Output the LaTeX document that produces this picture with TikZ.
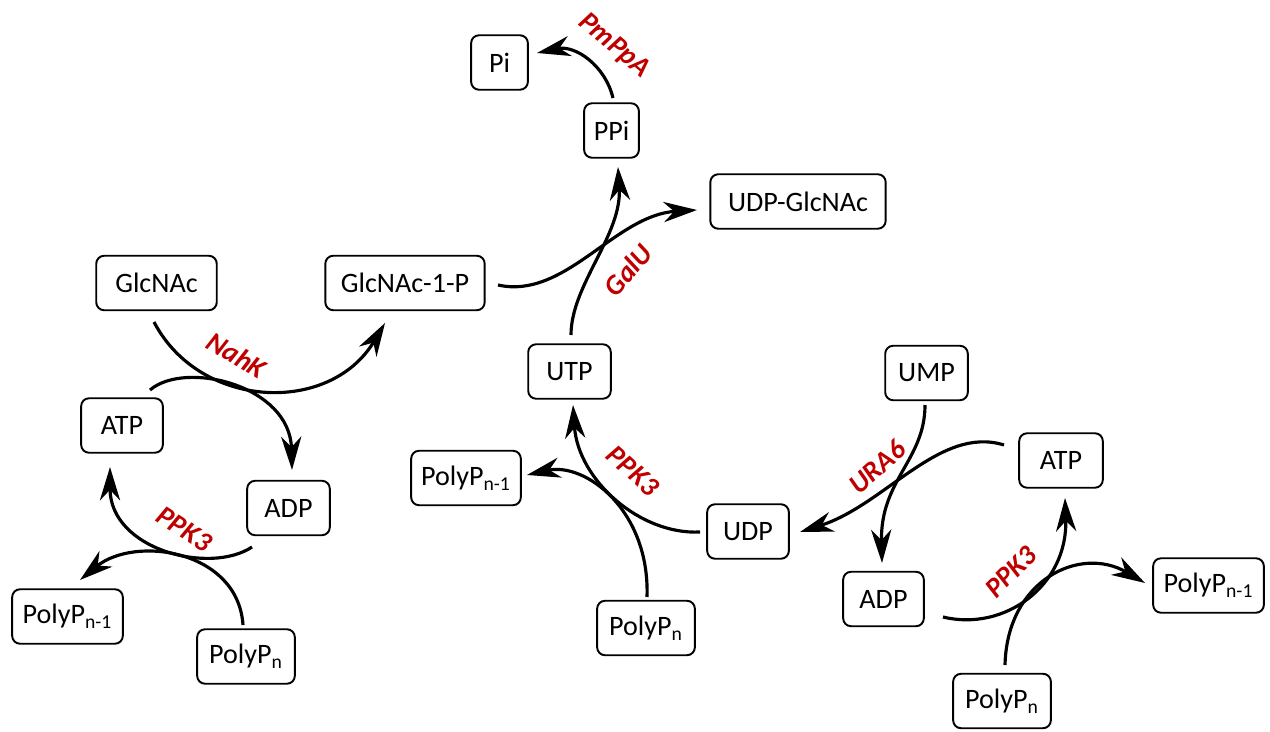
\documentclass[tikz,border=0pt]{standalone}
\usepackage{fontspec}
\setmainfont{Carlito}
\usetikzlibrary{calc,arrows.meta}
\definecolor{labred}{RGB}{192,0,0}
\begin{document}
\begin{tikzpicture}[x=0.02cm,y=-0.02cm,
  box/.style={draw,line width=1.1pt,rounded corners=4.5pt,minimum height=31pt,inner xsep=2pt,inner ysep=0pt,
    font=\fontsize{16}{19}\selectfont},
  arr/.style={line width=1.8pt,-{Stealth[length=19pt,width=11.5pt,inset=6pt]}},
  enz/.style={text=labred,font=\fontsize{16}{19}\selectfont\bfseries\itshape,inner sep=1pt}]
\useasboundingbox (0,0) rectangle (1270,732);
% nodes
\node[box,minimum width=68.6pt] (glcnac) at (156.5,283) {GlcNAc};
\node[box,minimum width=90.7pt] (glcnac1p) at (405,283) {GlcNAc-1-P};
\node[box,minimum width=46.5pt] (atpL) at (122,425.5) {ATP};
\node[box,minimum width=47pt] (adpL) at (288.5,508) {ADP};
\node[box,minimum width=63pt] (polyn1L) at (67.5,616.5) {PolyP\textsubscript{n-1}};
\node[box,minimum width=55.6pt] (polynL) at (246,656.5) {PolyP\textsubscript{n}};
\node[box,minimum width=32.3pt] (pi) at (499.5,62.5) {Pi};
\node[box,minimum width=31.2pt] (ppi) at (611.5,130.5) {PPi};
\node[box,minimum width=99.8pt] (udpglcnac) at (798,201.5) {UDP-GlcNAc};
\node[box,minimum width=47pt] (utp) at (569.5,371.5) {UTP};
\node[box,minimum width=62.4pt] (polyn1M) at (466,478) {PolyP\textsubscript{n-1}};
\node[box,minimum width=46.5pt] (udp) at (748,531.5) {UDP};
\node[box,minimum width=55.6pt] (polynM) at (646,628) {PolyP\textsubscript{n}};
\node[box,minimum width=47pt] (ump) at (926.5,373) {UMP};
\node[box,minimum width=47.6pt] (atpR) at (1061,460.5) {ATP};
\node[box,minimum width=45.9pt] (adpR) at (883.5,599) {ADP};
\node[box,minimum width=63pt] (polyn1R) at (1208.5,585.5) {PolyP\textsubscript{n-1}};
\node[box,minimum width=55.6pt] (polynR) at (1002,701) {PolyP\textsubscript{n}};
% connectors
\draw[arr] ($(glcnac)+(-2.5,39)$) .. controls (200,410) and (330,415) .. ($(glcnac1p)+(-20,40)$);
\draw[arr] ($(atpL)+(28,-35.5)$) .. controls (185,360) and (290,385) .. ($(adpL)+(3.5,-38)$);
\draw[arr] ($(adpL)+(-36.5,39)$) .. controls (210,575) and (110,550) .. ($(atpL)+(-12,41.5)$);
\draw[arr] ($(polynL)+(-3,-31.5)$) .. controls (238,550) and (135,535) .. ($(polyn1L)+(12.5,-36.5)$);
\draw[arr] ($(glcnac1p)+(93,2)$) .. controls (565,300) and (615,215) .. ($(udpglcnac)+(-101,8.5)$);
\draw[arr] ($(utp)+(1.5,-36.5)$) .. controls (571,285) and (622,235) .. ($(ppi)+(6.5,36.5)$);
\draw[arr] ($(ppi)+(1.5,-32.5)$) .. controls (605,65) and (575,45) .. ($(pi)+(37.5,-9.5)$);
\draw[arr] ($(udp)+(-48,0.5)$) .. controls (640,535) and (578,480) .. ($(utp)+(3.5,33.5)$);
\draw[arr] ($(polynM)+(1,-31)$) .. controls (650,510) and (585,462) .. ($(polyn1M)+(61,-3)$);
\draw[arr] ($(ump)+(-1.5,32)$) .. controls (925,460) and (880,480) .. ($(adpR)+(-1.5,-36)$);
\draw[arr] ($(atpR)+(-57,-15.5)$) .. controls (940,425) and (885,505) .. ($(udp)+(52,0.5)$);
\draw[arr] ($(adpR)+(59.5,18)$) .. controls (1005,632) and (1068,585) .. ($(atpR)+(4,37.5)$);
\draw[arr] ($(polynR)+(3,-36)$) .. controls (1007,580) and (1080,545) .. ($(polyn1R)+(-63.5,-2.5)$);
% enzyme labels
\node[enz,rotate=-31] (nahk) at (237,355) {NahK};
\node[enz,rotate=-33] (ppk3L) at (184,529) {PPK3};
\node[enz,rotate=-40] (pmppa) at (614,46) {PmPpA};
\node[enz,rotate=50] (galu) at (628,270) {GalU};
\node[enz,rotate=-42] (ppk3M) at (633,471) {PPK3};
\node[enz,rotate=42] (ura6) at (877,467) {URA6};
\node[enz,rotate=45] (ppk3R) at (1011,572) {PPK3};
\end{tikzpicture}
\end{document}
